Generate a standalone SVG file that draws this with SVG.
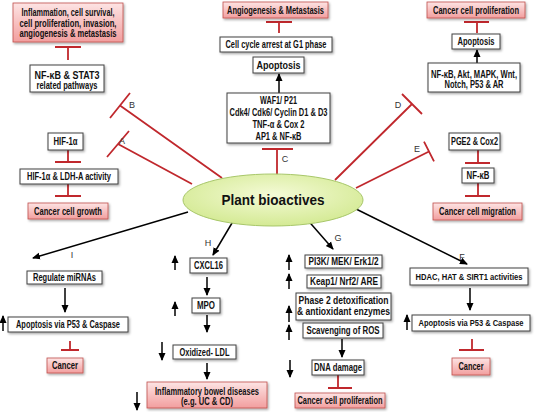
<svg xmlns="http://www.w3.org/2000/svg" width="550" height="412" viewBox="0 0 550 412">
<defs>
<linearGradient id="pg" x1="0" y1="0" x2="0" y2="1">
<stop offset="0" stop-color="#fde4e4"/>
<stop offset="1" stop-color="#f29e9e"/>
</linearGradient>
<radialGradient id="eg" cx="0.5" cy="0.4" r="0.6">
<stop offset="0" stop-color="#f4fad6"/>
<stop offset="1" stop-color="#d4ea94"/>
</radialGradient>
<filter id="sh" x="-10%" y="-20%" width="130%" height="160%">
<feDropShadow dx="1.2" dy="1.5" stdDeviation="0.9" flood-color="#000" flood-opacity="0.35"/>
</filter>
<marker id="ah" markerUnits="userSpaceOnUse" markerWidth="9" markerHeight="9" refX="7" refY="4" orient="auto">
<path d="M0,0.5 L8,4 L0,7.5 z" fill="#000"/>
</marker>
<style>
.box{fill:#fff;stroke:#404040;stroke-width:1;filter:url(#sh)}
.pink{fill:url(#pg);stroke:#c0504d;stroke-width:0.8;filter:url(#sh)}
.t{font-family:"Liberation Sans",Arial,sans-serif;font-weight:bold;font-size:10px;text-anchor:middle;fill:#111}
.s{font-size:9px}
.lbl{font-family:"Liberation Sans",Arial,sans-serif;font-size:9px;text-anchor:middle;fill:#333}
.inh{stroke:#c0282d;stroke-width:1.8;fill:none}
.act{stroke:#000;stroke-width:1.5;fill:none;marker-end:url(#ah)}
</style>
</defs>
<rect width="550" height="412" fill="#fff"/>

<g id="connectors">
<path class="inh" d="M120,105.5 L222,178 M130,93 L110,118"/>
<path class="inh" d="M118,144 L192,184 M129,131 L107,157"/>
<path class="inh" d="M277,149 L277,176 M262,149 L293,149"/>
<path class="inh" d="M412,104 L335,180 M402,94 L422,114"/>
<path class="inh" d="M429,151.5 L356,188 M424,141.6 L434,161.4"/>
<path class="inh" d="M68,60 L68,47 M55,47 L81,47"/>
<path class="inh" d="M68,150 L68,162 M55,162 L81,162"/>
<path class="inh" d="M68,184 L68,196 M55,196 L81,196"/>
<path class="inh" d="M279,33 L279,22 M266,22 L292,22"/>
<path class="inh" d="M477,33 L477,22 M464,22 L489,22"/>
<path class="inh" d="M478,150 L478,163 M465,163 L490,163"/>
<path class="inh" d="M478,183 L478,196 M465,196 L490,196"/>
<path class="inh" d="M70,341 L70,350 M61,350 L79,350"/>
<path class="inh" d="M338,375 L338,388 M328,388 L352,388"/>
<path class="inh" d="M472,339 L472,350 M459,350 L484,350"/>
<path class="act" d="M279,93 L279,74"/>
<path class="act" d="M477,63 L477,50"/>
<path class="act" d="M188,212 L33,258"/>
<path class="act" d="M235,218 L213,255"/>
<path class="act" d="M305,217 L333,249"/>
<path class="act" d="M350,206 L467,264"/>
<path class="act" d="M65,288 L65,312"/>
<path class="act" d="M3,331 L3,316"/>
<path class="act" d="M207,277 L207,295"/>
<path class="act" d="M175,270 L175,256"/>
<path class="act" d="M207,315 L207,332"/>
<path class="act" d="M175,316 L175,302"/>
<path class="act" d="M162,342 L162,360"/>
<path class="act" d="M207,363 L207,379"/>
<path class="act" d="M137,392 L137,410"/>
<path class="act" d="M289,270 L289,255"/>
<path class="act" d="M289,289 L289,274"/>
<path class="act" d="M289,322 L289,306"/>
<path class="act" d="M289,340 L289,325"/>
<path class="act" d="M342,339 L342,357"/>
<path class="act" d="M290,360 L290,377"/>
<path class="act" d="M470,288 L470,310"/>
<path class="act" d="M407,330 L407,315"/>
<text class="lbl" x="122" y="144">A</text>
<text class="lbl" x="132" y="108">B</text>
<text class="lbl" x="285" y="162">C</text>
<text class="lbl" x="398" y="108">D</text>
<text class="lbl" x="417" y="152">E</text>
<text class="lbl" x="462" y="260">F</text>
<text class="lbl" x="338" y="241">G</text>
<text class="lbl" x="208" y="246">H</text>
<text class="lbl" x="72" y="258">I</text>
</g>

<g id="n-inflam"><rect class="pink" x="13" y="3" width="110" height="39"/>
<text class="t" x="68" y="15.5" textLength="93" lengthAdjust="spacingAndGlyphs">Inflammation, cell survival,</text>
<text class="t" x="68" y="26.5" textLength="97" lengthAdjust="spacingAndGlyphs">cell proliferation, invasion,</text>
<text class="t" x="68" y="37" textLength="97" lengthAdjust="spacingAndGlyphs">angiogenesis &amp; metastasis</text></g>
<g id="n-nfkb-stat3"><rect class="box" x="30" y="65" width="74" height="27"/>
<text class="t" x="67" y="78.5" textLength="65" lengthAdjust="spacingAndGlyphs">NF-κB &amp; STAT3</text>
<text class="t" x="67" y="88.5" textLength="61" lengthAdjust="spacingAndGlyphs">related pathways</text></g>
<g id="n-hif"><rect class="box" x="48" y="133" width="35" height="17"/>
<text class="t" x="65.5" y="144.5" textLength="24" lengthAdjust="spacingAndGlyphs">HIF-1α</text></g>
<g id="n-hif-ldh"><rect class="box" x="20" y="169" width="98" height="15"/>
<text class="t" x="69" y="179.8" textLength="84" lengthAdjust="spacingAndGlyphs">HIF-1α &amp; LDH-A activity</text></g>
<g id="n-growth"><rect class="pink" x="28" y="203" width="80" height="16"/>
<text class="t" x="68" y="214.5" textLength="68" lengthAdjust="spacingAndGlyphs">Cancer cell growth</text></g>

<g id="n-angio"><rect class="pink" x="223" y="2" width="105" height="16"/>
<text class="t" x="275.5" y="13.5" textLength="97" lengthAdjust="spacingAndGlyphs">Angiogenesis &amp; Metastasis</text></g>
<g id="n-cellcycle"><rect class="box" x="220" y="37" width="112" height="15"/>
<text class="t" x="276" y="48" textLength="101" lengthAdjust="spacingAndGlyphs">Cell cycle arrest at G1 phase</text></g>
<g id="n-apop1"><rect class="box" x="253" y="57" width="51" height="16"/>
<text class="t" x="278.5" y="68.5" textLength="44" lengthAdjust="spacingAndGlyphs">Apoptosis</text></g>
<g id="n-waf"><rect class="box" x="227" y="93" width="103" height="50"/>
<text class="t" x="278.5" y="103.5" textLength="37" lengthAdjust="spacingAndGlyphs">WAF1/ P21</text>
<text class="t" x="278.5" y="116" textLength="98" lengthAdjust="spacingAndGlyphs">Cdk4/ Cdk6/ Cyclin D1 &amp; D3</text>
<text class="t" x="278.5" y="128.3" textLength="52" lengthAdjust="spacingAndGlyphs">TNF-α &amp; Cox 2</text>
<text class="t" x="278.5" y="140.2" textLength="46" lengthAdjust="spacingAndGlyphs">AP1 &amp; NF-κB</text></g>

<g id="n-prolif-top"><rect class="pink" x="427" y="2" width="98" height="16"/>
<text class="t" x="476" y="13.5" textLength="86" lengthAdjust="spacingAndGlyphs">Cancer cell proliferation</text></g>
<g id="n-apop2"><rect class="box" x="452" y="34" width="48" height="15"/>
<text class="t" x="476" y="44.8" textLength="37" lengthAdjust="spacingAndGlyphs">Apoptosis</text></g>
<g id="n-nfkb-akt"><rect class="box" x="428" y="63" width="92" height="29"/>
<text class="t" x="474" y="77.5" textLength="86" lengthAdjust="spacingAndGlyphs">NF-κB, Akt, MAPK, Wnt,</text>
<text class="t" x="474" y="87.5" textLength="59" lengthAdjust="spacingAndGlyphs">Notch, P53 &amp; AR</text></g>
<g id="n-pge2"><rect class="box" x="449" y="133" width="51" height="17"/>
<text class="t" x="474.5" y="144.5" textLength="47" lengthAdjust="spacingAndGlyphs">PGE2 &amp; Cox2</text></g>
<g id="n-nfkb"><rect class="box" x="462" y="168" width="32" height="15"/>
<text class="t" x="478" y="178.8" textLength="23" lengthAdjust="spacingAndGlyphs">NF-κB</text></g>
<g id="n-migration"><rect class="pink" x="433" y="203" width="89" height="17"/>
<text class="t" x="477.5" y="214.8" textLength="77" lengthAdjust="spacingAndGlyphs">Cancer cell migration</text></g>

<g id="n-plant"><ellipse cx="273" cy="200" rx="90" ry="26" fill="url(#eg)" stroke="#a8c76a" stroke-width="1"/>
<text x="273" y="205" style="font-family:'Liberation Sans',Arial,sans-serif;font-weight:bold;font-size:14.5px;text-anchor:middle;fill:#111" textLength="103" lengthAdjust="spacingAndGlyphs">Plant bioactives</text></g>

<g id="n-mirna"><rect class="box" x="27" y="271" width="75" height="13"/>
<text class="t" x="64.5" y="281" textLength="63" lengthAdjust="spacingAndGlyphs">Regulate miRNAs</text></g>
<g id="n-apop3"><rect class="box" x="8" y="317" width="120" height="15"/>
<text class="t" x="68" y="327.8" textLength="104" lengthAdjust="spacingAndGlyphs">Apoptosis via P53 &amp; Caspase</text></g>
<g id="n-cancer1"><rect class="pink" x="47" y="358" width="36" height="15"/>
<text class="t" x="65" y="368.8" textLength="26" lengthAdjust="spacingAndGlyphs">Cancer</text></g>

<g id="n-cxcl16"><rect class="box" x="190" y="258" width="37" height="15"/>
<text class="t" x="208.5" y="268.8" textLength="29" lengthAdjust="spacingAndGlyphs">CXCL16</text></g>
<g id="n-mpo"><rect class="box" x="192" y="298" width="28" height="15"/>
<text class="t" x="206" y="308.8" textLength="18" lengthAdjust="spacingAndGlyphs">MPO</text></g>
<g id="n-oxldl"><rect class="box" x="173" y="345" width="63" height="14"/>
<text class="t" x="204.5" y="355.5" textLength="50" lengthAdjust="spacingAndGlyphs">Oxidized- LDL</text></g>
<g id="n-ibd"><rect class="pink" x="147" y="382" width="120" height="26"/>
<text class="t" x="207" y="395" textLength="104" lengthAdjust="spacingAndGlyphs">Inflammatory bowel diseases</text>
<text class="t" x="207" y="405" textLength="52" lengthAdjust="spacingAndGlyphs">(e.g. UC &amp; CD)</text></g>

<g id="n-pi3k"><rect class="box" x="305" y="255" width="77" height="13"/>
<text class="t" x="343.5" y="264.8" textLength="70" lengthAdjust="spacingAndGlyphs">PI3K/ MEK/ Erk1/2</text></g>
<g id="n-keap"><rect class="box" x="307" y="275" width="74" height="13"/>
<text class="t" x="344" y="284.8" textLength="68" lengthAdjust="spacingAndGlyphs">Keap1/ Nrf2/ ARE</text></g>
<g id="n-phase2"><rect class="box" x="296" y="293" width="95" height="27"/>
<text class="t" x="343.5" y="303.8" textLength="90" lengthAdjust="spacingAndGlyphs">Phase 2 detoxification</text>
<text class="t" x="343.5" y="315.3" textLength="93" lengthAdjust="spacingAndGlyphs">&amp; antioxidant enzymes</text></g>
<g id="n-ros"><rect class="box" x="303" y="323" width="80" height="15"/>
<text class="t" x="343" y="333.8" textLength="73" lengthAdjust="spacingAndGlyphs">Scavenging of ROS</text></g>
<g id="n-dna"><rect class="box" x="312" y="360" width="52" height="15"/>
<text class="t" x="338" y="370.8" textLength="48" lengthAdjust="spacingAndGlyphs">DNA damage</text></g>
<g id="n-prolif-bot"><rect class="pink" x="295" y="393" width="90" height="15"/>
<text class="t" x="340" y="403.8" textLength="85" lengthAdjust="spacingAndGlyphs">Cancer cell proliferation</text></g>

<g id="n-hdac"><rect class="box" x="410" y="268" width="118" height="17"/>
<text class="t s" x="469" y="279.5" textLength="107" lengthAdjust="spacingAndGlyphs">HDAC, HAT &amp; SIRT1 activities</text></g>
<g id="n-apop4"><rect class="box" x="412" y="315" width="118" height="16"/>
<text class="t s" x="471" y="326" textLength="105" lengthAdjust="spacingAndGlyphs">Apoptosis via P53 &amp; Caspase</text></g>
<g id="n-cancer2"><rect class="pink" x="452" y="358" width="38" height="17"/>
<text class="t" x="471" y="369.5" textLength="25" lengthAdjust="spacingAndGlyphs">Cancer</text></g>
</svg>
